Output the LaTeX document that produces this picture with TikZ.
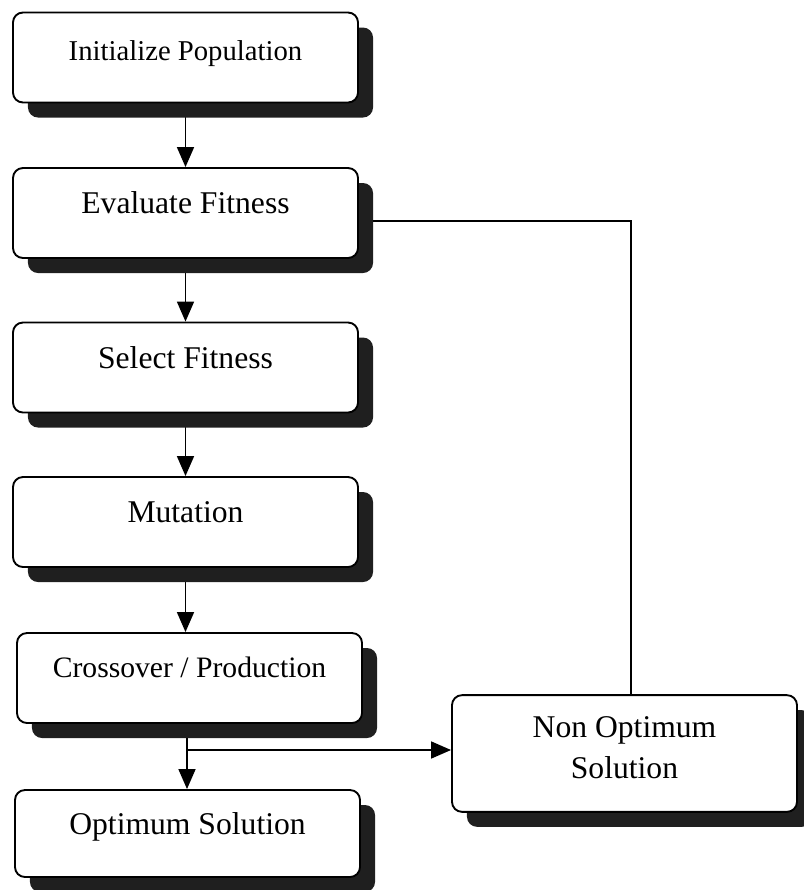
\documentclass[tikz,border=0pt]{standalone}
\usepackage{fontspec}
\setmainfont{Liberation Serif}
\usetikzlibrary{arrows.meta,shadows,backgrounds}
\begin{document}
\begin{tikzpicture}[x=0.03cm,y=-0.03cm,
  box/.style={draw=black,line width=1.6pt,fill=white,rounded corners=0.3cm,
    minimum width=10.35cm,minimum height=2.7cm,inner sep=0pt,
    font=\fontsize{27}{35}\selectfont,
    text height=19pt,text depth=18pt,
    drop shadow={shadow xshift=0.45cm,shadow yshift=-0.45cm,fill=black!88,opacity=1}},
  lbl/.style={inner sep=0pt,align=center,font=\fontsize{27}{35}\selectfont},
  conn/.style={line width=1.4pt,draw=black},
  arr/.style={conn,-{Triangle[width=0.51cm,length=0.6cm]}}]
\useasboundingbox (0,0) rectangle (803,890);
\node[box,font=\fontsize{24.5}{30}\selectfont,text depth=14pt] (init) at (185.5,57.5) {Initialize Population};
\node[box] (eval) at (185.5,213) {Evaluate Fitness};
\node[box] (sel) at (185.5,367.5) {Select Fitness};
\node[box] (mut) at (185.5,522) {Mutation};
\node[box,font=\fontsize{25.3}{32}\selectfont,text depth=20pt] (cross) at (189.5,678) {Crossover / Production};
\node[box,minimum height=2.61cm] (opt) at (187.5,833.5) {Optimum Solution};
\node[box,minimum height=3.5cm] (non) at (624.5,753.5) {};
\node[lbl] (nontext) at (624.5,748) {Non Optimum\\Solution};
\coordinate (br) at (187,750);
\begin{pgfonlayer}{background}
\draw[arr] (init.south) -- (eval.north);
\draw[arr] (eval.south) -- (sel.north);
\draw[arr] (sel.south) -- (mut.north);
\draw[arr] (mut.south) -- (mut.south |- cross.north);
\draw[conn] (cross.south -| br) -- (br);
\draw[arr] (br) -- (opt.north -| br);
\draw[arr] (br) -- (br -| non.west);
\draw[conn] ([yshift=-0.24cm]eval.east) -| ([xshift=0.2cm]non.north);
\end{pgfonlayer}
\end{tikzpicture}
\end{document}
